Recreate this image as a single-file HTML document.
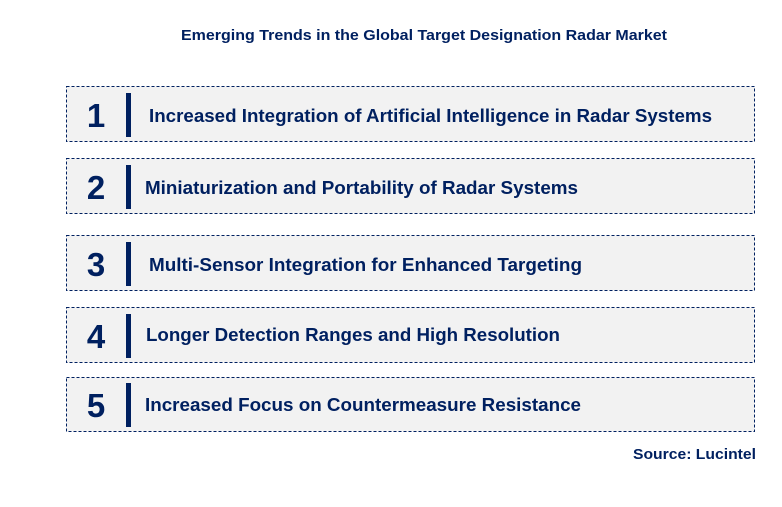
<!DOCTYPE html>
<html><head><meta charset="utf-8"><style>body{margin:0;background:#fff}svg{display:block}</style></head><body>
<svg width="782" height="507" xmlns="http://www.w3.org/2000/svg" font-family="Liberation Sans, Arial, sans-serif" font-weight="bold" fill="#002060">
<text x="424" y="40" font-size="14.5" text-anchor="middle" textLength="486" lengthAdjust="spacingAndGlyphs">Emerging Trends in the Global Target Designation Radar Market</text>
<g stroke="#002060" stroke-width="1" stroke-dasharray="3,2" fill="#f2f2f2">
<rect x="66.5" y="86.5" width="688" height="55"/>
<rect x="66.5" y="158.5" width="688" height="55"/>
<rect x="66.5" y="235.5" width="688" height="55"/>
<rect x="66.5" y="307.5" width="688" height="55"/>
<rect x="66.5" y="377.5" width="688" height="54"/>
</g>
<g fill="#002060">
<rect x="126" y="93" width="5" height="44"/>
<rect x="126" y="165" width="5" height="44"/>
<rect x="126" y="242" width="5" height="44"/>
<rect x="126" y="314" width="5" height="44"/>
<rect x="126" y="383" width="5" height="44"/>
</g>
<g font-size="33" text-anchor="middle">
<text x="96" y="127">1</text>
<text x="96" y="199">2</text>
<text x="96" y="276">3</text>
<text x="96" y="348">4</text>
<text x="96" y="417">5</text>
</g>
<g font-size="18">
<text x="149" y="122" textLength="563" lengthAdjust="spacingAndGlyphs">Increased Integration of Artificial Intelligence in Radar Systems</text>
<text x="145" y="194" textLength="433" lengthAdjust="spacingAndGlyphs">Miniaturization and Portability of Radar Systems</text>
<text x="149" y="271" textLength="433" lengthAdjust="spacingAndGlyphs">Multi-Sensor Integration for Enhanced Targeting</text>
<text x="146" y="341" textLength="414" lengthAdjust="spacingAndGlyphs">Longer Detection Ranges and High Resolution</text>
<text x="145" y="411" textLength="436" lengthAdjust="spacingAndGlyphs">Increased Focus on Countermeasure Resistance</text>
</g>
<text x="633" y="459" font-size="15" textLength="123" lengthAdjust="spacingAndGlyphs">Source: Lucintel</text>
</svg>
</body></html>
